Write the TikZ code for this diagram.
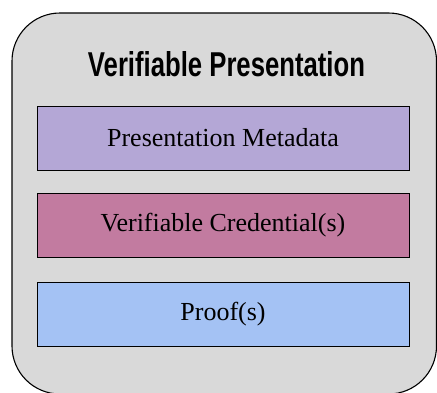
\documentclass[tikz,border=0pt]{standalone}
\usepackage{fontspec}
\setmainfont{Liberation Serif}
\newfontfamily\titlefont{Liberation Sans}
\usepackage{graphicx}
\definecolor{outerfill}{HTML}{D9D9D9}
\definecolor{metafill}{HTML}{B4A7D6}
\definecolor{credfill}{HTML}{C27BA0}
\definecolor{prooffill}{HTML}{A4C2F4}
\tikzset{
  part/.style={draw=black, line width=1pt, minimum width=372pt, minimum height=64pt, inner sep=0pt, font=\fontsize{26}{30}\selectfont},
}
\begin{document}
\begin{tikzpicture}[x=1pt,y=-1pt]
\useasboundingbox (0,0) rectangle (437,392);
\begin{scope}
\clip (0,0) rectangle (437,392);
\draw[fill=outerfill, line width=1.1pt, rounded corners=48pt] (12,13) rectangle (436.5,394) ;
\end{scope}
\node[inner sep=0pt] (title) at (226.5,64.5) {\resizebox{277pt}{25pt}{\titlefont\bfseries Verifiable Presentation}};
\node[part, fill=metafill] (meta) at (223,138) {Presentation Metadata};
\node[part, fill=credfill] (cred) at (223,225.5) {Verifiable Credential(s)};
\node[part, fill=prooffill] (proof) at (223,314) {Proof(s)};
\end{tikzpicture}
\end{document}
